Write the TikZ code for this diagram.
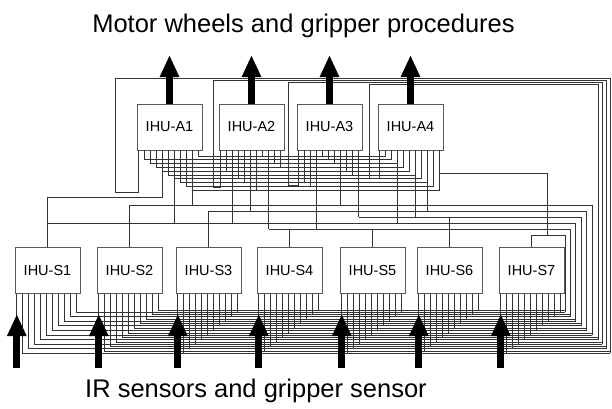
\documentclass[tikz,border=0pt]{standalone}
\usepackage{fontspec}
\setmainfont{Liberation Sans}
\usetikzlibrary{calc,arrows.meta}

\tikzset{
  ihu/.style={draw=black!65, fill=white, minimum width=65pt, minimum height=46pt,
    inner sep=0pt, font=\fontsize{14.5}{17}\selectfont},
  wire/.style={draw=black!80, line width=0.65pt},
  fatarrow/.style={line width=7pt, -{Triangle[length=22pt,width=18pt]}},
  caption/.style={anchor=base, font=\fontsize{25.5}{30}\selectfont},
}

\begin{document}
\begin{tikzpicture}[x=1pt,y=-1pt]
\useasboundingbox (0,0) rectangle (612,408);

% actuator and sensor units
\foreach \k/\x in {1/169.5,2/251.5,3/329.5,4/410.5}
  \node[ihu] (a\k) at (\x,127) {IHU-A\k};
\foreach \k/\x in {1/47.5,2/129.5,3/208.5,4/289.5,5/372.5,6/449.5,7/531.5}
  \node[ihu] (s\k) at (\x,270.5) {IHU-S\k};

% pins under every unit
\foreach \b in {a1,a2,a3,a4,s1,s2,s3,s4,s5,s6,s7}
  \foreach \i in {0,...,10}
    \coordinate (\b-p\i) at ($(\b.south west)+(2+6*\i,0)$);

% right hand bundle
\foreach \i/\x in {1/610,2/606,3/602,4/598,5/592,6/586.6,7/581.2,8/575.8,9/570.4,10/565}
  \coordinate (r\i) at (\x,0);

% bus between the actuator units
\foreach \src/\dst/\k in {a1/a2/0,a2/a3/1,a3/a4/2}{
  \foreach \i in {1,...,10}{
    \pgfmathtruncatemacro{\t}{mod(\i+6,10)+1}
    \pgfmathsetmacro{\lev}{156+3.8*mod(\i+3*\k,10)}
    \draw[wire] (\src-p\i) |- (\dst-p\t |- 0,\lev) -- (\dst-p\t);
  }
}

% pins running down to the middle levels
\foreach \p/\y in {a1-p4/197,a1-p9/205,a1-p6/223,a2-p5/211,a2-p8/229,a2-p2/223,
                   a3-p3/229,a3-p7/205,a3-p10/217,a4-p6/217,a4-p3/223,a4-p8/211}
  \draw[wire] (\p) -- (\p |- 0,\y);

% loops over the actuator units
\foreach \k/\xl/\yb/\yt in {1/115/192/78,2/213/187/80,3/288/185/82,4/369/178/84}{
  \pgfmathsetmacro{\ys}{312+4.6*(10-\k)}
  \draw[wire] (a\k-p0) |- (\xl,\yb) |- (r\k |- 0,\yt) -- (r\k |- 0,\ys);
}

% middle levels
\foreach \i/\p/\y in {5/s2.north/205,6/s3.north/211,7/a3-p10/217,
                      8/s1.north/223,9/a2-p8/229,10/s7.north/235}{
  \pgfmathsetmacro{\ys}{312+4.6*(10-\i)}
  \draw[wire] (\p |- 0,\y) -| (r\i |- 0,\ys);
}
\draw[wire] (a4-p10) |- (547,173) -- (547,235);

% sensor unit tops
\draw[wire] (s1.north) |- (a1-p4 |- 0,197);
\foreach \k/\y in {2/205,3/211,4/229,5/229,6/217,7/235}
  \draw[wire] (s\k.north) -- (s\k.north |- 0,\y);

% bus under the sensor units
\foreach \m in {1,...,7}{
  \foreach \i in {1,...,10}{
    \pgfmathsetmacro{\ys}{310+4.6*(10-\i)+2*mod(\m,2)}
    \draw[wire] (s\m-p\i) |- (r\i |- 0,\ys);
  }
}

% outputs and inputs
\foreach \k in {1,...,4}{
  \coordinate (out\k) at (a\k.north |- 0,55);
  \draw[fatarrow] (a\k.north) -- (out\k);
}
\foreach \k in {1,...,7}{
  \coordinate (in\k) at (s\k-p0 |- 0,368);
  \draw[wire] (s\k-p0) -- (s\k-p0 |- 0,316);
  \draw[fatarrow] (in\k) -- (s\k-p0 |- 0,314);
}

\node[caption] (outtext) at (303.5,32) {Motor wheels and gripper procedures};
\node[caption] (intext) at (256,397) {IR sensors and gripper sensor};

\end{tikzpicture}
\end{document}
